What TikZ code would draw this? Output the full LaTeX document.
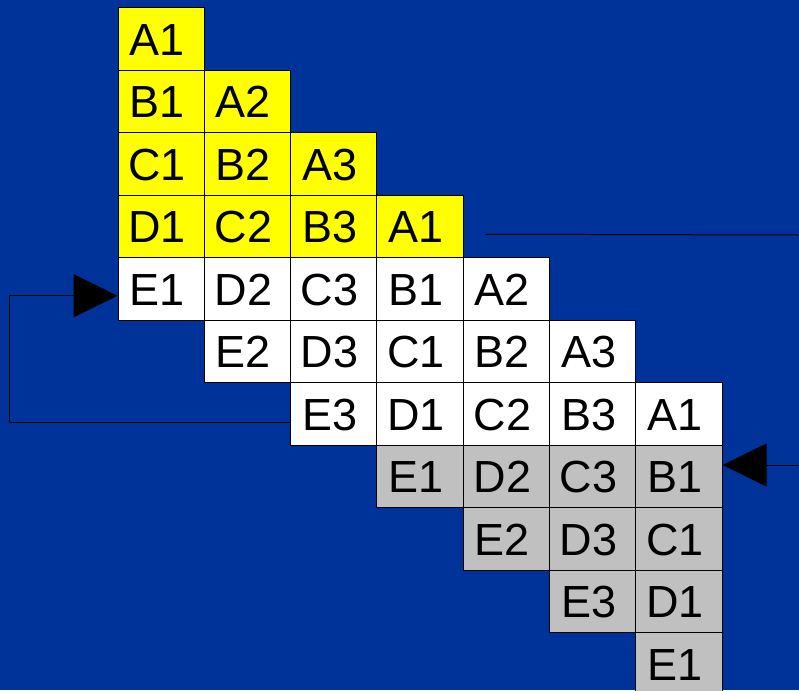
\documentclass[tikz,border=0pt]{standalone}
\usepackage{fontspec}
\setmainfont{Liberation Sans}
\usetikzlibrary{arrows.meta, calc}
\definecolor{slBlue}{HTML}{003399}
\definecolor{slYellow}{HTML}{FFFF00}
\definecolor{slGray}{HTML}{C0C0C0}

\begin{document}
\begin{tikzpicture}[x=1pt, y=-1pt,
  cell/.style={draw=black, line width=0.9pt, minimum width=86.3pt, minimum height=62.5pt,
    inner sep=0pt, text height=33pt, text depth=0pt, font=\fontsize{45}{50}\selectfont},
  flow/.style={draw=black, line width=1pt},
  head/.style={-{Triangle[length=44pt, width=43pt]}}]
  % tlo
  \useasboundingbox (0,0) rectangle (799,690);
  \fill[slBlue] (0,0) rectangle (799,690);
  % komorki
  \foreach \r/\c/\t/\f in {0/0/A1/slYellow,
      1/0/B1/slYellow, 1/1/A2/slYellow,
      2/0/C1/slYellow, 2/1/B2/slYellow, 2/2/A3/slYellow,
      3/0/D1/slYellow, 3/1/C2/slYellow, 3/2/B3/slYellow, 3/3/A1/slYellow,
      4/0/E1/white, 4/1/D2/white, 4/2/C3/white, 4/3/B1/white, 4/4/A2/white,
      5/1/E2/white, 5/2/D3/white, 5/3/C1/white, 5/4/B2/white, 5/5/A3/white,
      6/2/E3/white, 6/3/D1/white, 6/4/C2/white, 6/5/B3/white, 6/6/A1/white,
      7/3/E1/slGray, 7/4/D2/slGray, 7/5/C3/slGray, 7/6/B1/slGray,
      8/4/E2/slGray, 8/5/D3/slGray, 8/6/C1/slGray,
      9/5/E3/slGray, 9/6/D1/slGray,
      10/6/E1/slGray}
    \node[cell, fill=\f] (r\r-\c) at ({118+86.3*(\c+0.5)},{7.5+62.5*(\r+0.5)}) {\hspace*{-8pt}\t};
  % wyjscie w prawo
  \coordinate (outL) at ($(r3-3.east)+(22,8)$);
  \coordinate (outR) at (799,235);
  \draw[flow] (outL) -- (outR);
  % petla w lewo
  \coordinate (loopS) at ($(r6-2.west)+(0,8.5)$);
  \coordinate (loopT) at ($(r4-0.west)+(0,7)$);
  \draw[flow, head] (loopS) -- ++(-281,0) |- (loopT);
  % wejscie z prawej
  \coordinate (inR) at (799,465);
  \draw[flow, head] (inR) -- (inR -| r7-6.east);
\end{tikzpicture}
\end{document}
